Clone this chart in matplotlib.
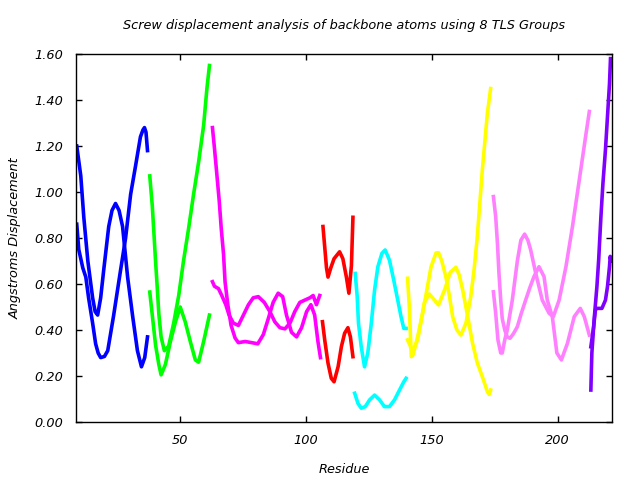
import matplotlib
matplotlib.use("Agg")
import matplotlib.pyplot as plt

# group 1 (blue)
g1_res_a = [9, 10.6, 11.8, 13.4, 15.3, 16.3, 17.3, 18.5, 19.7, 21.7, 23.0, 24.4, 25.8, 27.2, 29.2, 31.2, 33.1, 34.7, 36.0, 37.1]
g1_val_a = [1.20, 1.07, 0.89, 0.70, 0.54, 0.48, 0.465, 0.54, 0.66, 0.85, 0.92, 0.95, 0.92, 0.85, 0.63, 0.46, 0.31, 0.24, 0.28, 0.37]
g1_res_b = [9, 9.8, 11.4, 12.6, 13.7, 15.3, 16.5, 17.5, 18.5, 20.0, 21.3, 23.6, 26.4, 28.4, 30.4, 32.3, 34.3, 35.3, 35.9, 36.5, 37.1]
g1_val_b = [0.86, 0.75, 0.67, 0.63, 0.54, 0.43, 0.34, 0.30, 0.28, 0.285, 0.31, 0.46, 0.66, 0.80, 0.99, 1.11, 1.24, 1.27, 1.28, 1.26, 1.18]

# group 2 (green)
g2_res_a = [38.0, 39.0, 39.6, 40.3, 41.0, 41.6, 42.5, 43.8, 45.5, 47.5, 49.5, 51.4, 53.4, 55.4, 57.4, 59.4, 60.7, 61.7]
g2_val_a = [1.07, 0.94, 0.83, 0.70, 0.58, 0.47, 0.37, 0.31, 0.33, 0.43, 0.55, 0.70, 0.84, 0.99, 1.13, 1.29, 1.45, 1.55]
g2_res_b = [38.0, 39.0, 40.3, 41.6, 42.5, 44.2, 46.2, 48.2, 50.1, 52.1, 54.1, 56.1, 57.4, 59.4, 61.7]
g2_val_b = [0.565, 0.465, 0.335, 0.25, 0.205, 0.25, 0.35, 0.435, 0.50, 0.435, 0.35, 0.27, 0.26, 0.35, 0.465]

# group 3 (magenta)
g3_res_a = [62.9, 63.7, 64.7, 65.6, 66.4, 67.3, 67.9, 69.0, 70.3, 71.9, 73.2, 75.9, 78.5, 80.9, 83.1, 85.1, 87.0, 89.0, 90.8, 92.3, 94.3, 96.3, 98.3, 100.3, 102.0, 103.5, 104.8, 105.8]
g3_val_a = [1.28, 1.19, 1.07, 0.96, 0.84, 0.73, 0.61, 0.51, 0.42, 0.365, 0.345, 0.35, 0.345, 0.34, 0.38, 0.45, 0.52, 0.56, 0.545, 0.465, 0.39, 0.37, 0.41, 0.48, 0.51, 0.465, 0.35, 0.28]
g3_res_b = [62.9, 63.7, 65.3, 66.6, 68.2, 69.5, 71.2, 73.2, 75.2, 77.2, 79.1, 81.1, 83.5, 85.7, 87.7, 89.7, 91.7, 93.7, 95.6, 97.6, 99.6, 101.6, 102.9, 104.2, 105.5]
g3_val_b = [0.61, 0.59, 0.58, 0.55, 0.51, 0.465, 0.43, 0.42, 0.465, 0.51, 0.54, 0.545, 0.52, 0.48, 0.435, 0.41, 0.405, 0.43, 0.48, 0.52, 0.53, 0.54, 0.55, 0.51, 0.55]

# group 4 (red)
g4_res_a = [106.8, 107.5, 108.2, 108.8, 109.9, 111.2, 113.4, 114.7, 116.1, 117.1, 118.1, 118.7]
g4_val_a = [0.85, 0.76, 0.67, 0.63, 0.67, 0.71, 0.74, 0.71, 0.63, 0.56, 0.68, 0.89]
g4_res_b = [106.6, 107.5, 108.8, 110.1, 111.2, 112.8, 114.1, 115.4, 116.7, 117.7, 118.7]
g4_val_b = [0.436, 0.356, 0.256, 0.19, 0.175, 0.24, 0.327, 0.386, 0.41, 0.37, 0.284]

# group 5 (cyan)
g5_res_a = [119.6, 120.4, 120.9, 122.0, 123.3, 124.6, 126.0, 127.3, 128.6, 130.2, 131.5, 133.2, 134.9, 136.5, 137.8, 138.9, 139.8]
g5_val_a = [0.646, 0.545, 0.43, 0.327, 0.24, 0.30, 0.43, 0.574, 0.675, 0.733, 0.748, 0.704, 0.617, 0.53, 0.458, 0.407, 0.407]
g5_res_b = [119.4, 120.7, 122.0, 123.6, 125.3, 127.3, 129.3, 131.2, 133.2, 135.2, 137.2, 138.9, 139.8]
g5_val_b = [0.125, 0.081, 0.06, 0.067, 0.096, 0.117, 0.096, 0.067, 0.067, 0.096, 0.139, 0.175, 0.19]

# group 6 (yellow)
g6_res_a = [140.4, 141.1, 141.5, 141.9, 142.5, 143.8, 145.0, 146.4, 148.0, 149.7, 151.7, 152.7, 154.0, 155.6, 157.0, 158.3, 160.0, 161.6, 163.6, 165.5, 166.8, 168.1, 170.1, 172.1, 173.4]
g6_val_a = [0.625, 0.50, 0.386, 0.284, 0.29, 0.343, 0.40, 0.473, 0.57, 0.674, 0.735, 0.736, 0.70, 0.632, 0.55, 0.458, 0.40, 0.378, 0.43, 0.545, 0.66, 0.806, 1.096, 1.342, 1.45]
g6_res_b = [140.4, 142.3, 144.4, 147.1, 149.0, 152.7, 155.3, 157.3, 159.6, 160.9, 162.3, 164.3, 166.2, 168.1, 170.1, 172.1, 172.8, 173.4]
g6_val_b = [0.357, 0.31, 0.357, 0.52, 0.557, 0.509, 0.58, 0.65, 0.673, 0.64, 0.574, 0.458, 0.343, 0.257, 0.197, 0.132, 0.12, 0.139]

# group 7 (pink)
g7_res_a = [174.5, 175.4, 176.1, 176.7, 177.4, 178.0, 179.0, 180.0, 181.1, 182.5, 184.0, 185.5, 187.3, 189.0, 190.6, 192.6, 194.6, 195.9, 197.9, 199.7, 201.5, 203.9, 206.6, 209.0, 210.6, 212.6]
g7_val_a = [0.98, 0.893, 0.777, 0.647, 0.53, 0.45, 0.40, 0.37, 0.364, 0.385, 0.414, 0.47, 0.53, 0.585, 0.632, 0.675, 0.632, 0.53, 0.458, 0.30, 0.27, 0.342, 0.458, 0.494, 0.458, 0.378]
g7_res_b = [174.5, 175.4, 176.3, 177.4, 178.0, 179.0, 180.0, 182.0, 184.0, 185.4, 186.9, 188.2, 189.3, 191.3, 193.9, 196.6, 198.3, 200.6, 203.3, 205.9, 208.6, 211.3, 212.6]
g7_val_b = [0.566, 0.473, 0.357, 0.30, 0.30, 0.357, 0.40, 0.53, 0.70, 0.79, 0.817, 0.79, 0.748, 0.647, 0.53, 0.473, 0.458, 0.53, 0.675, 0.85, 1.052, 1.255, 1.35]

# group 8 (purple)
g8_res_a = [213.2, 213.6, 214.6, 215.6, 216.3, 217.2, 218.0, 219.0, 219.8, 220.6, 221.0]
g8_val_a = [0.139, 0.30, 0.458, 0.588, 0.704, 0.893, 1.038, 1.183, 1.327, 1.47, 1.58]
g8_res_b = [213.2, 214.3, 215.0, 215.6, 217.6, 219.0, 219.8, 220.6, 220.9, 221.2]
g8_val_b = [0.327, 0.414, 0.487, 0.494, 0.494, 0.53, 0.588, 0.675, 0.72, 0.70]

groups = [
    ("#0000ff", g1_res_a, g1_val_a, g1_res_b, g1_val_b),
    ("#00ff00", g2_res_a, g2_val_a, g2_res_b, g2_val_b),
    ("#ff00ff", g3_res_a, g3_val_a, g3_res_b, g3_val_b),
    ("#ff0000", g4_res_a, g4_val_a, g4_res_b, g4_val_b),
    ("#00ffff", g5_res_a, g5_val_a, g5_res_b, g5_val_b),
    ("#ffff00", g6_res_a, g6_val_a, g6_res_b, g6_val_b),
    ("#ff80ff", g7_res_a, g7_val_a, g7_res_b, g7_val_b),
    ("#8000ff", g8_res_a, g8_val_a, g8_res_b, g8_val_b),
]

fig = plt.figure(figsize=(6.4, 4.8), dpi=100)
ax = fig.add_axes([76 / 640, 58 / 480, 536 / 640, 368 / 480])

for color, xa, ya, xb, yb in groups:
    ax.plot(xa, ya, color=color, lw=2.6, solid_joinstyle="round")
    ax.plot(xb, yb, color=color, lw=2.6, solid_joinstyle="round")

ax.set_xlim(8.7, 221.6)
ax.set_ylim(0, 1.6)
ax.set_xticks([50, 100, 150, 200])
ax.set_yticks([0, 0.2, 0.4, 0.6, 0.8, 1.0, 1.2, 1.4, 1.6])
ax.set_yticklabels(["%.2f" % v for v in ax.get_yticks()])
ax.tick_params(direction="in", length=4, width=1, top=True, right=True,
               labelsize=9.3, pad=9)
for lab in ax.get_xticklabels() + ax.get_yticklabels():
    lab.set_fontstyle("italic")
for sp in ax.spines.values():
    sp.set_linewidth(1)

ax.set_xlabel("Residue", fontsize=9.3, fontstyle="italic", labelpad=11)
ax.set_ylabel("Angstroms Displacement", fontsize=9.3, fontstyle="italic", labelpad=9)
fig.text(0.537, 1 - 26 / 480, "Screw displacement analysis of backbone atoms using 8 TLS Groups",
         ha="center", va="center", fontsize=9.3, fontstyle="italic")

fig.savefig("out.png", dpi=100)
